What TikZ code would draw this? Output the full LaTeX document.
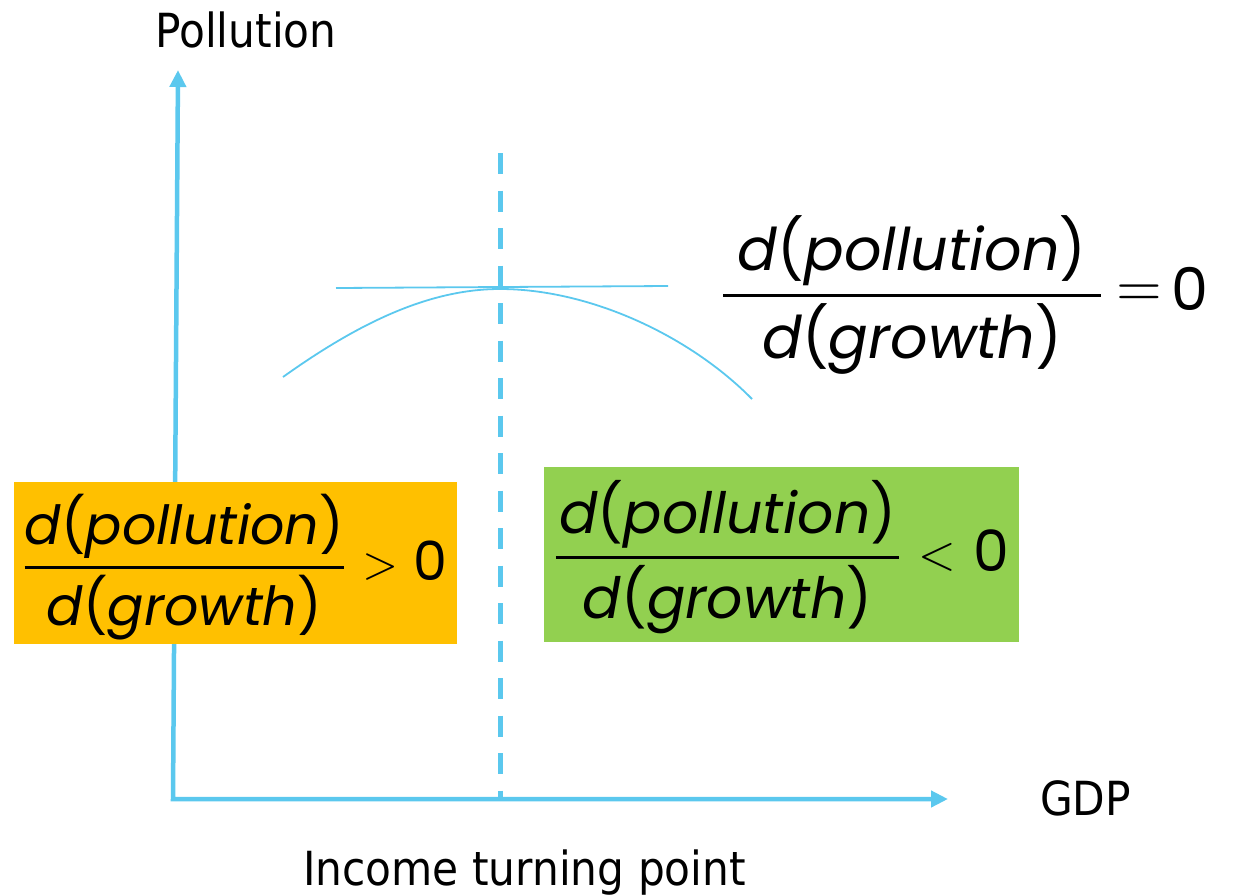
\documentclass[tikz,border=0pt]{standalone}
\usepackage{amsmath}
\usepackage{fontspec}
\setmainfont{Poppins}
\newfontfamily\labfont[FakeStretch=0.9]{DejaVu Sans}
\usetikzlibrary{arrows.meta}
\definecolor{axblue}{HTML}{5BC8EE}
\definecolor{boxorange}{HTML}{FFC000}
\definecolor{boxgreen}{HTML}{92D050}
\newcommand{\dterm}[1]{\text{\textit{d}(\textit{#1})}}
\newcommand{\dratio}[1]{\dfrac{\mkern#1mu\dterm{pollution}\mkern#1mu}{\dterm{growth}}}
\newcommand{\rel}[4]{\mkern#2mu\vcenter{\hbox{\scalebox{#4}{$#1$}}}\mkern#3mu}
\tikzset{
  axisline/.style={draw=axblue, line width=4.5pt, line join=miter,
    {Triangle[length=17pt,width=16pt]}-{Triangle[length=17pt,width=16pt]}},
  turnline/.style={draw=axblue, line width=5pt, dash pattern=on 21pt off 16.5pt},
  thinblue/.style={draw=axblue, line width=1.8pt},
  colbox/.style={rectangle, inner sep=0pt, draw=none},
  formula/.style={inner sep=0pt, anchor=west, text=black},
  axlabel/.style={inner sep=0pt, anchor=base west, font=\labfont\fontsize{47}{54}\selectfont}
}
\begin{document}
\begin{tikzpicture}[x=1pt,y=-1pt]
\useasboundingbox (0,0) rectangle (1235,895);
% axes
\coordinate (ytop) at (178,70);
\coordinate (origin) at (173,799);
\coordinate (xend) at (948,799);
\draw[axisline] (ytop) -- (origin) -- (xend);
% turning point dashed line
\coordinate (tptop) at (500,153);
\coordinate (tpbot) at (500,799);
\draw[turnline] (tptop) -- (tpbot);
% curve and tangent
\coordinate (cl) at (283,377);
\coordinate (apex) at (500,289);
\coordinate (cr) at (752,399);
\coordinate (tl) at (336,288);
\coordinate (tr) at (668,286);
\draw[thinblue] (tl) -- (tr);
\draw[thinblue] (cl) .. controls (360,322) and (430,289) .. (apex)
                     .. controls (590,289) and (690,336) .. (cr);
% boxes
\node[colbox, fill=boxorange, minimum width=443pt, minimum height=162pt] (obox) at (235.5,563) {};
\node[colbox, fill=boxgreen, minimum width=475pt, minimum height=175pt] (gbox) at (781.5,554.5) {};
% formulas
\node[formula, scale=5.39] (fpos) at (17,567) {$\dratio{0} \rel{>}{4}{5.3}{0.85} \text{0}$};
\node[formula, scale=5.69] (fneg) at (548,557) {$\dratio{1} \rel{<}{4}{5.5}{0.85} \text{0}$};
\node[formula, scale=5.88] (fzero) at (715,295) {$\dratio{4.5} \rel{=}{2.5}{3}{1} \text{0}$};
% labels
\node[axlabel] (ylab) at (155,47) {Pollution};
\node[axlabel] (xlab) at (1040,815) {GDP};
\node[axlabel] (tplab) at (303,885) {Income turning point};
\end{tikzpicture}
\end{document}
